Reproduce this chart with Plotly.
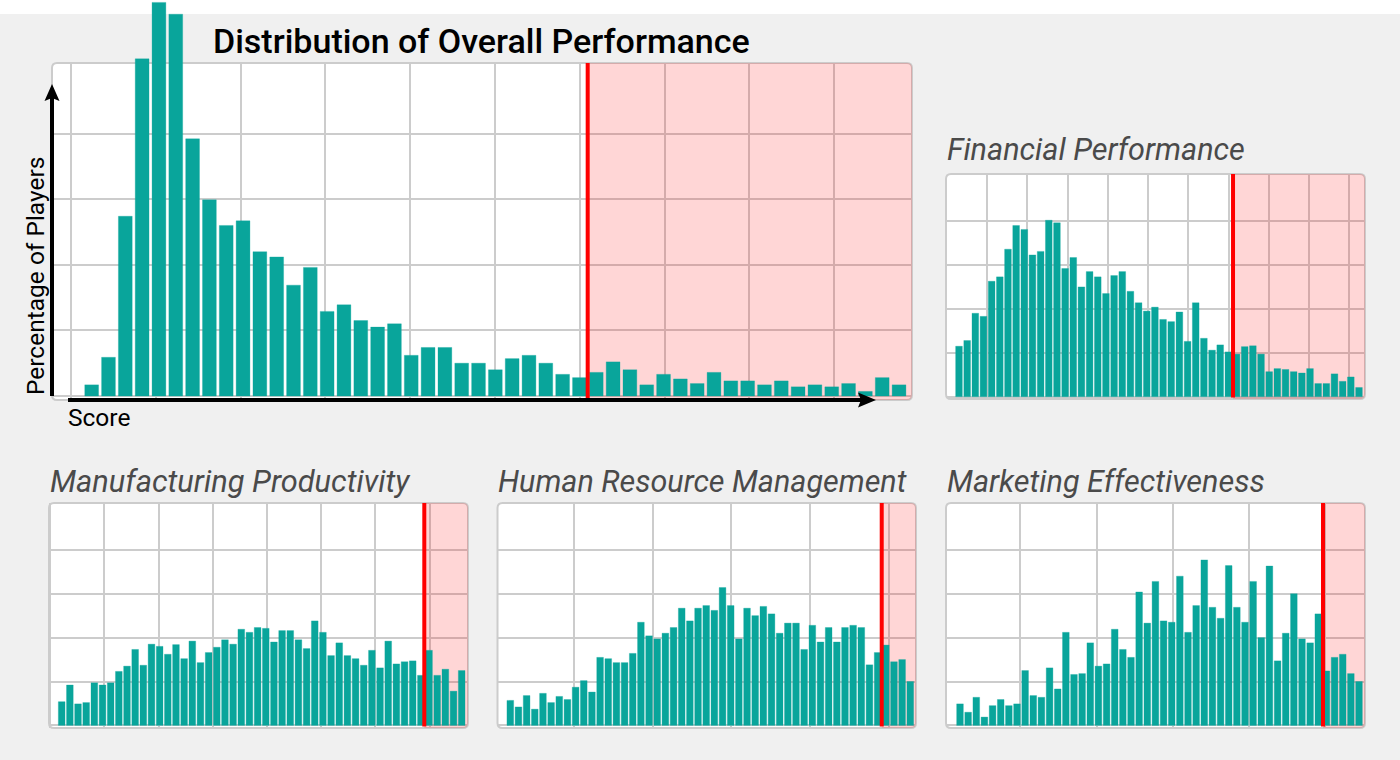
import plotly.graph_objects as go

# bar heights per score bin, in gridline units (axis has no printed numbers)
overall = [0.17, 0.59, 2.74, 5.14, 6.00, 5.82, 3.92, 2.99, 2.60, 2.67, 2.20, 2.12, 1.69, 1.96, 1.29, 1.39, 1.15,
           1.05, 1.10, 0.62, 0.74, 0.74, 0.50, 0.50, 0.40, 0.57, 0.62, 0.50, 0.33, 0.28, 0.36, 0.52, 0.40, 0.17,
           0.33, 0.26, 0.19, 0.36, 0.23, 0.23, 0.17, 0.23, 0.14, 0.17, 0.14, 0.19, 0.07, 0.28, 0.17]
financial = [1.15, 1.28, 1.90, 1.83, 2.63, 2.73, 3.36, 3.90, 3.81, 3.23, 3.31, 4.02, 3.96, 2.92, 3.17, 2.50, 2.85,
             2.73, 2.35, 2.76, 2.85, 2.40, 2.14, 1.95, 2.04, 1.76, 1.71, 1.93, 1.26, 2.14, 1.33, 1.06, 1.18, 1.02,
             0.97, 1.14, 1.16, 0.97, 0.57, 0.64, 0.62, 0.57, 0.54, 0.64, 0.30, 0.30, 0.52, 0.35, 0.45, 0.21]
manufacturing = [0.54, 0.92, 0.49, 0.52, 0.97, 0.92, 0.97, 1.23, 1.35, 1.73, 1.37, 1.85, 1.80, 1.62, 1.84, 1.52, 1.92,
                 1.43, 1.66, 1.78, 1.95, 1.85, 2.19, 2.12, 2.23, 2.21, 1.90, 2.16, 2.16, 1.95, 1.75, 2.38, 2.12, 1.59,
                 1.88, 1.59, 1.52, 1.37, 1.71, 1.31, 1.92, 1.40, 1.45, 1.47, 1.14, 1.71, 1.14, 1.28, 0.78, 1.25]
human_resource = [0.57, 0.42, 0.68, 0.37, 0.73, 0.52, 0.66, 0.59, 0.87, 1.02, 0.76, 1.55, 1.52, 1.43, 1.43, 1.64, 2.35,
                  2.04, 1.97, 2.10, 2.23, 2.67, 2.38, 2.67, 2.73, 2.62, 3.14, 2.73, 1.97, 2.67, 2.50, 2.71, 2.54, 2.10,
                  2.33, 2.33, 1.73, 2.28, 1.90, 2.23, 1.90, 2.23, 2.28, 2.23, 1.38, 1.66, 1.83, 1.45, 1.50, 1.00]
marketing = [0.49, 0.30, 0.64, 0.19, 0.45, 0.59, 0.45, 0.49, 1.25, 0.68, 0.64, 1.31, 0.83, 2.12, 1.16, 1.18, 1.88,
             1.35, 1.40, 2.19, 1.73, 1.55, 3.04, 2.33, 3.28, 2.38, 2.35, 3.40, 2.12, 2.73, 3.77, 2.69, 2.44, 3.64,
             2.69, 2.35, 3.28, 2.00, 3.63, 1.47, 2.10, 3.00, 1.97, 1.88, 2.54, 1.24, 1.55, 1.62, 1.18, 1.00]

# bin index (from 0) where the red cutoff line falls
overall_cutoff = 29.49
financial_cutoff = 33.57
manufacturing_cutoff = 44.42
human_resource_cutoff = 45.50
marketing_cutoff = 44.58

W, H = 1400, 760
TEAL = "#09a59b"
GRID = "#cccccc"

# panel geometry in page pixels
panels = [
    dict(values=overall, cutoff=overall_cutoff, left=52, right=912, top=63, bottom=400, base=396, y_step=65.6,
         first_bar=91.67, bar_step=16.82, grid0=71, grid_step=84.8, grid_w=2),
    dict(values=financial, cutoff=financial_cutoff, left=946, right=1365, top=174, bottom=399, base=396.7, y_step=43.9,
         first_bar=959, bar_step=8.163, grid0=987, grid_step=40.25, grid_w=1.5),
    dict(values=manufacturing, cutoff=manufacturing_cutoff, left=49, right=468, top=503, bottom=728, base=725.4, y_step=43.9,
         first_bar=61.7, bar_step=8.163, grid0=104.3, grid_step=54.2, grid_w=1.5),
    dict(values=human_resource, cutoff=human_resource_cutoff, left=497.5, right=916, top=503, bottom=728, base=725.4, y_step=43.9,
         first_bar=510.3, bar_step=8.163, grid0=573.7, grid_step=78.8, grid_w=1.5),
    dict(values=marketing, cutoff=marketing_cutoff, left=946, right=1365, top=503, bottom=728, base=725.4, y_step=43.9,
         first_bar=960, bar_step=8.143, grid0=1020.3, grid_step=76.2, grid_w=1.5),
]


def px(x):
    return x / W


def py(y):
    return 1 - y / H


def rounded(x0, x1, y0, y1, rx, ry):
    # rounded rectangle path in paper coordinates
    return (f"M {x0 + rx} {y0} L {x1 - rx} {y0} Q {x1} {y0} {x1} {y0 + ry} L {x1} {y1 - ry} Q {x1} {y1} {x1 - rx} {y1} "
            f"L {x0 + rx} {y1} Q {x0} {y1} {x0} {y1 - ry} L {x0} {y0 + ry} Q {x0} {y0} {x0 + rx} {y0} Z")


fig = go.Figure()
shapes = [
    # grey page below the white strip at the top
    dict(type="rect", xref="paper", yref="paper", x0=0, x1=1, y0=0, y1=py(14), fillcolor="#f0f0f0", line_width=0, layer="below"),
]
axes = {}

for i, p in enumerate(panels):
    suffix = "" if i == 0 else str(i + 1)
    xname = "x" + suffix
    yname = "y" + suffix

    x_lo = (p["left"] - p["first_bar"]) / p["bar_step"]
    x_hi = (p["right"] - p["first_bar"]) / p["bar_step"]
    y_lo = (p["base"] - p["bottom"]) / p["y_step"]
    y_hi = (p["base"] - p["top"]) / p["y_step"]

    axes["xaxis" + suffix] = dict(
        domain=[px(p["left"]), px(p["right"])], range=[x_lo, x_hi], anchor=yname,
        tick0=(p["grid0"] - p["first_bar"]) / p["bar_step"], dtick=p["grid_step"] / p["bar_step"],
        showticklabels=False, ticks="", zeroline=False, showgrid=True, gridcolor=GRID, gridwidth=p["grid_w"],
    )
    axes["yaxis" + suffix] = dict(
        domain=[py(p["bottom"]), py(p["top"])], range=[y_lo, y_hi], anchor=xname,
        tickvals=[0, 1, 2, 3, 4], showticklabels=False, ticks="", zeroline=False,
        showgrid=True, gridcolor=GRID, gridwidth=p["grid_w"],
    )

    # white rounded card under the grid
    shapes.append(dict(
        type="path", xref="paper", yref="paper", layer="below",
        path=rounded(px(p["left"]), px(p["right"]), py(p["top"]), py(p["bottom"]), 5 / W, -5 / H),
        fillcolor="white", line=dict(color=GRID, width=2),
    ))
    # pink zone sits over the grid, under the bars
    rx = 5 / p["bar_step"]
    ry = 5 / p["y_step"]
    shapes.append(dict(
        type="path", xref=xname, yref=yname, layer="between",
        path=(f"M {p['cutoff']} {y_hi} L {x_hi - rx} {y_hi} Q {x_hi} {y_hi} {x_hi} {y_hi - ry} "
              f"L {x_hi} {y_lo + ry} Q {x_hi} {y_lo} {x_hi - rx} {y_lo} L {p['cutoff']} {y_lo} Z"),
        fillcolor="rgba(255,0,0,0.16)", line_width=0,
    ))
    # red cutoff line
    shapes.append(dict(
        type="line", xref=xname, yref=yname, layer="above", x0=p["cutoff"], x1=p["cutoff"], y0=y_lo + 1.5 / p["y_step"], y1=y_hi,
        line=dict(color="#ff0000", width=4),
    ))

# the tallest overall bars rise out of the panel, so bars get their own taller, gridless axes
for i, p in enumerate(panels):
    n = len(panels) + i + 1
    axes[f"xaxis{n}"] = dict(
        domain=[px(p["left"]), px(p["right"])],
        range=[(p["left"] - p["first_bar"]) / p["bar_step"], (p["right"] - p["first_bar"]) / p["bar_step"]],
        anchor=f"y{n}", visible=False,
    )
    axes[f"yaxis{n}"] = dict(
        domain=[py(p["bottom"]), 1],
        range=[(p["base"] - p["bottom"]) / p["y_step"], p["base"] / p["y_step"]],
        anchor=f"x{n}", visible=False,
    )
    fig.add_trace(go.Bar(
        x=list(range(len(p["values"]))),
        y=p["values"],
        width=0.82,
        marker=dict(color=TEAL, line=dict(color="rgba(9,165,155,0.3)", width=1)),
        hoverinfo="skip",
        xaxis=f"x{n}",
        yaxis=f"y{n}",
        showlegend=False,
    ))

# arrows of the main panel
shapes += [
    dict(type="line", xref="paper", yref="paper", x0=px(52), x1=px(52), y0=py(396), y1=py(98), line=dict(color="black", width=4), layer="above"),
    dict(type="path", xref="paper", yref="paper", layer="above", fillcolor="black", line_width=0,
         path=f"M {px(52)} {py(84)} L {px(59.5)} {py(101)} L {px(52)} {py(98)} L {px(44.5)} {py(101)} Z"),
    dict(type="line", xref="paper", yref="paper", x0=px(68), x1=px(862), y0=py(400), y1=py(400), line=dict(color="black", width=4), layer="above"),
    dict(type="path", xref="paper", yref="paper", layer="above", fillcolor="black", line_width=0,
         path=f"M {px(876)} {py(400)} L {px(858)} {py(392.5)} L {px(861)} {py(400)} L {px(858)} {py(407.5)} Z"),
]

labels = [
    ("Distribution of Overall Performance", 211, 41, 34, "normal", "black", 500),
    ("Financial Performance", 945, 149, 30.6, "italic", "#4a4a4a", 400),
    ("Manufacturing Productivity", 48, 481, 30.8, "italic", "#4a4a4a", 400),
    ("Human Resource Management", 496, 481, 30.5, "italic", "#4a4a4a", 400),
    ("Marketing Effectiveness", 945, 481, 30.6, "italic", "#4a4a4a", 400),
    ("Score", 66, 417, 24.5, "normal", "black", 400),
]
annotations = [
    dict(text=t, xref="paper", yref="paper", x=px(x), y=py(y), xanchor="left", yanchor="middle", showarrow=False,
         font=dict(family="Roboto", size=size, style=style, color=color, weight=weight))
    for t, x, y, size, style, color, weight in labels
]
annotations.append(dict(
    text="Percentage of Players", xref="paper", yref="paper", x=px(35), y=py(276), textangle=-90,
    xanchor="center", yanchor="middle", showarrow=False, font=dict(family="Roboto", size=24.5, color="black"),
))

fig.update_layout(
    width=W, height=H, margin=dict(l=0, r=0, t=0, b=0),
    paper_bgcolor="white", plot_bgcolor="rgba(0,0,0,0)",
    shapes=shapes, annotations=annotations, barmode="overlay",
    font=dict(family="Roboto"), **axes,
)

# drop the browser's default body margin so the page pixels line up
fig.write_html("out.html", config={"displayModeBar": False},
               post_script="document.body.style.margin = '0'; document.body.style.overflow = 'hidden';")
